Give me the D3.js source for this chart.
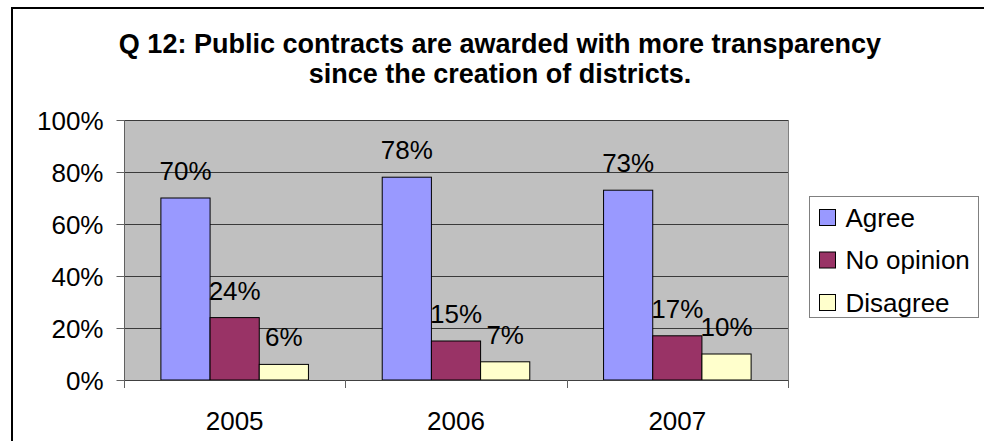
<!DOCTYPE html>
<html>
<head>
<meta charset="utf-8">
<script src="https://cdn.jsdelivr.net/npm/d3@7/dist/d3.min.js"></script>
<style>
  html, body { margin: 0; padding: 0; background: #ffffff; }
  svg { display: block; font-family: "Liberation Sans", Arial, sans-serif; }
</style>
</head>
<body>
<svg id="chart" width="984" height="441"></svg>
<script>
// Survey answers per year, in percent
const categories = ["2005", "2006", "2007"];
const seriesNames = ["Agree", "No opinion", "Disagree"];
const agree = [70, 78, 73];
const noOpinion = [24, 15, 17];
const disagree = [6, 7, 10];
const yTicks = [0, 20, 40, 60, 80, 100];
const titleLines = [
  "Q 12: Public contracts are awarded with more transparency",
  "since the creation of districts."
];
const seriesColors = ["#9999ff", "#993366", "#ffffcc"];

const seriesValues = [agree, noOpinion, disagree];

const svg = d3.select("#chart");

// Outer chart frame
svg.append("rect")
  .attr("x", 12).attr("y", 8)
  .attr("width", 1000).attr("height", 500)
  .attr("fill", "#ffffff")
  .attr("stroke", "#000000")
  .attr("stroke-width", 2);

// Plot area bounds
const plot = { left: 124, right: 788, top: 120, bottom: 380 };

const x = d3.scaleBand()
  .domain(categories)
  .range([plot.left, plot.right])
  .paddingInner(1 / 3)
  .paddingOuter(1 / 6);

const xSub = d3.scaleBand()
  .domain(seriesNames)
  .range([0, x.bandwidth()]);

const y = d3.scaleLinear()
  .domain([0, 100])
  .range([plot.bottom, plot.top]);

const color = d3.scaleOrdinal().domain(seriesNames).range(seriesColors);

// Plot background
svg.append("rect")
  .attr("x", plot.left).attr("y", plot.top)
  .attr("width", plot.right - plot.left)
  .attr("height", plot.bottom - plot.top)
  .attr("fill", "#c0c0c0");

// Horizontal gridlines
svg.append("g")
  .selectAll("line")
  .data(yTicks.filter(d => d > 0))
  .join("line")
  .attr("x1", plot.left).attr("x2", plot.right)
  .attr("y1", d => Math.round(y(d)) + 0.5)
  .attr("y2", d => Math.round(y(d)) + 0.5)
  .attr("stroke", "#3a3a3a")
  .attr("stroke-width", 1);

// Right edge of the plot area
svg.append("line")
  .attr("x1", plot.right + 0.5).attr("x2", plot.right + 0.5)
  .attr("y1", plot.top).attr("y2", plot.bottom)
  .attr("stroke", "#808080");

// Bars
const rows = categories.map((c, i) => ({
  category: c,
  values: seriesNames.map((s, j) => ({ series: s, value: seriesValues[j][i] }))
}));

const groups = svg.append("g")
  .selectAll("g")
  .data(rows)
  .join("g")
  .attr("transform", d => `translate(${x(d.category)},0)`);

groups.selectAll("rect")
  .data(d => d.values)
  .join("rect")
  .attr("x", d => xSub(d.series))
  .attr("y", d => y(d.value))
  .attr("width", xSub.bandwidth())
  .attr("height", d => y(0) - y(d.value))
  .attr("fill", d => color(d.series))
  .attr("stroke", "#000000")
  .attr("stroke-width", 1);

// Value labels above the bars
groups.selectAll("text")
  .data(d => d.values)
  .join("text")
  .attr("x", d => xSub(d.series) + xSub.bandwidth() / 2)
  .attr("y", d => y(d.value) - 18)
  .attr("text-anchor", "middle")
  .attr("font-size", 26)
  .attr("fill", "#000000")
  .text(d => d.value + "%");

// Y axis
const yAxis = svg.append("g")
  .attr("transform", `translate(${plot.left + 0.5},0)`)
  .call(d3.axisLeft(y)
    .tickValues(yTicks)
    .tickFormat(d => d + "%")
    .tickSize(8)
    .tickPadding(13));
yAxis.select(".domain").attr("stroke", "#606060").attr("d", `M0,${plot.top}V${plot.bottom + 8}`);
yAxis.selectAll(".tick line").attr("stroke", "#606060");
yAxis.selectAll(".tick text")
  .attr("font-size", 26)
  .attr("font-family", "Liberation Sans, Arial, sans-serif")
  .attr("fill", "#000000")
  .attr("dy", "0.36em");

// X axis line with tick marks at category boundaries
svg.append("line")
  .attr("x1", plot.left).attr("x2", plot.right + 1)
  .attr("y1", plot.bottom + 0.5).attr("y2", plot.bottom + 0.5)
  .attr("stroke", "#404040");

const boundaries = d3.range(categories.length + 1)
  .map(i => plot.left + i * x.step());
svg.append("g")
  .selectAll("line")
  .data(boundaries)
  .join("line")
  .attr("x1", d => Math.round(d) + 0.5).attr("x2", d => Math.round(d) + 0.5)
  .attr("y1", plot.bottom).attr("y2", plot.bottom + 8)
  .attr("stroke", "#606060");

// Category labels
svg.append("g")
  .selectAll("text")
  .data(categories)
  .join("text")
  .attr("x", d => x(d) + x.bandwidth() / 2)
  .attr("y", 430)
  .attr("text-anchor", "middle")
  .attr("font-size", 26)
  .attr("fill", "#000000")
  .text(d => d);

// Title
svg.append("g")
  .selectAll("text")
  .data(titleLines)
  .join("text")
  .attr("x", 500)
  .attr("y", (d, i) => 53 + i * 30)
  .attr("text-anchor", "middle")
  .attr("font-size", 27)
  .attr("font-weight", "bold")
  .attr("fill", "#000000")
  .text(d => d);

// Legend
const legend = svg.append("g").attr("transform", "translate(809.5,196.5)");
legend.append("rect")
  .attr("width", 169).attr("height", 121)
  .attr("fill", "#ffffff")
  .attr("stroke", "#808080");

const items = legend.selectAll("g.item")
  .data(seriesNames)
  .join("g")
  .attr("class", "item")
  .attr("transform", (d, i) => `translate(0,${21 + i * 42.5})`);

items.append("rect")
  .attr("x", 10).attr("y", -8)
  .attr("width", 16).attr("height", 16)
  .attr("fill", d => color(d))
  .attr("stroke", "#000000");

items.append("text")
  .attr("x", 36).attr("y", 0)
  .attr("dy", "0.36em")
  .attr("font-size", 26)
  .attr("fill", "#000000")
  .text(d => d);
</script>
</body>
</html>
